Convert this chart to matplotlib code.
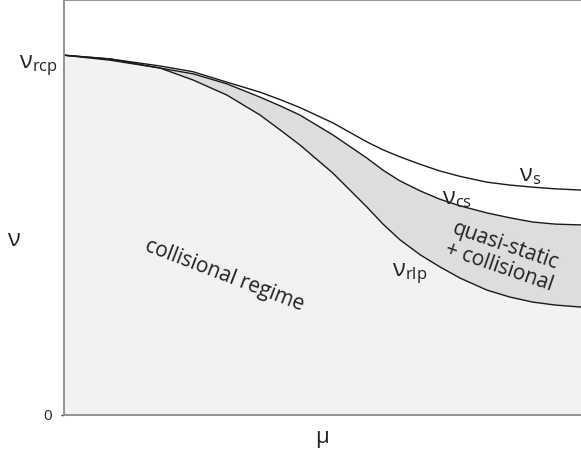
import numpy as np
import matplotlib
matplotlib.use('Agg')
import matplotlib.pyplot as plt

plt.rcParams['font.family'] = ['Open Sans', 'DejaVu Sans']
plt.rcParams['mathtext.default'] = 'regular'

# values (mu and nu in axis units, 0..1)
mu = [0, 0.089, 0.186, 0.250, 0.315, 0.379, 0.418, 0.456, 0.520, 0.586,
      0.617, 0.650, 0.689, 0.727, 0.766, 0.818, 0.863, 0.907, 0.950, 1.0]
nu_s = [0.867, 0.858, 0.841, 0.827, 0.802, 0.778, 0.760, 0.741, 0.704, 0.658,
        0.639, 0.622, 0.604, 0.588, 0.575, 0.561, 0.554, 0.549, 0.545, 0.542]
nu_cs = [0.867, 0.858, 0.836, 0.822, 0.798, 0.766, 0.745, 0.723, 0.675, 0.619,
         0.590, 0.564, 0.540, 0.520, 0.504, 0.487, 0.475, 0.465, 0.460, 0.458]
nu_rlp = [0.867, 0.855, 0.836, 0.807, 0.771, 0.723, 0.687, 0.651, 0.583, 0.501,
          0.460, 0.422, 0.386, 0.357, 0.330, 0.301, 0.284, 0.272, 0.265, 0.260]
nu_rcp = 0.867

fig = plt.figure(figsize=(5.81, 4.62), dpi=100)
ax = fig.add_axes([64/581, 47/462, 1 - 64/581, 415/462])

ax.fill_between(mu, 0, nu_rlp, color='#f1f2f4', lw=0)
ax.fill_between(mu, nu_rlp, nu_cs, color='#dcdddf', lw=0)
for yy in (nu_s, nu_cs, nu_rlp):
    ax.plot(mu, yy, color='#1a1a1a', lw=1.0, solid_joinstyle='round')

ax.set_xlim(0, 1)
ax.set_ylim(0, 1)
ax.set_xticks([])
ax.set_yticks([0])
ax.set_yticklabels(['0'], fontsize=11)
ax.tick_params(axis='y', length=2, width=1, pad=7, colors='#222222')
for s in ax.spines.values():
    s.set_color('#8a8a8a')
    s.set_linewidth(1.3)
ax.spines['right'].set_visible(False)

ax.text(-0.012, nu_rcp - 0.025, r'ν$_{rcp}$', ha='right', va='center', fontsize=17, color='#222222')
ax.text(0.902, 0.578, r'ν$_{s}$', ha='center', va='center', fontsize=17, color='#222222')
ax.text(0.76, 0.522, r'ν$_{cs}$', ha='center', va='center', fontsize=17, color='#222222')
ax.text(0.668, 0.34, r'ν$_{rlp}$', ha='center', va='center', fontsize=17, color='#222222')
ax.text(0.311, 0.337, 'collisional regime', ha='center', va='center', rotation=-21,
        fontsize=15, color='#222222')
ax.text(0.848, 0.382, 'quasi-static\n+ collisional', ha='center', va='center', rotation=-19,
        fontsize=15, color='#222222', linespacing=1.05, multialignment='center')

fig.text(13/581, 1 - 240/462, 'ν', ha='center', va='center', fontsize=17, color='#222222')
fig.text(322/581, 1 - 438/462, 'μ', ha='center', va='center', fontsize=16, color='#222222')

fig.savefig('out.png', dpi=100)
